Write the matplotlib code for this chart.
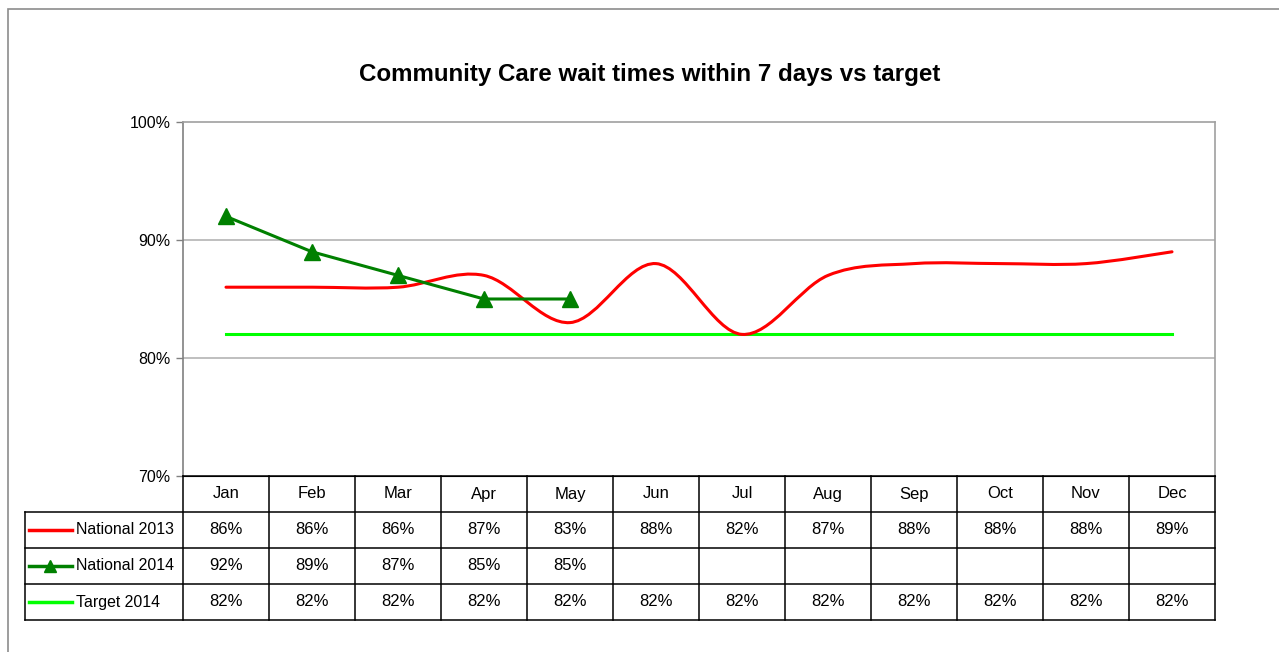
import matplotlib
matplotlib.use("Agg")
import matplotlib.pyplot as plt
import numpy as np
from matplotlib.path import Path
from matplotlib.patches import PathPatch, Rectangle

plt.rcParams['font.family'] = ['Liberation Sans', 'DejaVu Sans']

# data
months = ['Jan', 'Feb', 'Mar', 'Apr', 'May', 'Jun', 'Jul', 'Aug', 'Sep', 'Oct', 'Nov', 'Dec']
national_2013 = [86, 86, 86, 87, 83, 88, 82, 87, 88, 88, 88, 89]
national_2014 = [92, 89, 87, 85, 85]
target_2014 = [82] * 12
series_names = ['National 2013', 'National 2014', 'Target 2014']
yticks = [70, 80, 90, 100]

W, H = 1279, 652
fig = plt.figure(figsize=(W / 100, H / 100), dpi=100)


def fx(px):
    return px / W


def fy(py):
    return 1 - py / H


# outer frame
fig.patches.append(Rectangle((fx(8), -0.02), 1.05, fy(9) + 0.02, transform=fig.transFigure,
                             fill=False, edgecolor='#8c8c8c', lw=1.2))

fig.text(fx(650), fy(75), 'Community Care wait times within 7 days vs target',
         ha='center', va='center', fontsize=17.4, fontweight='bold')

# plot area
x0, x1, ytop, ybot = 183, 1215, 122, 476
ax = fig.add_axes([fx(x0), fy(ybot), fx(x1) - fx(x0), fy(ytop) - fy(ybot)])
ax.set_xlim(-0.5, 11.5)
ax.set_ylim(70, 100)
ax.set_xticks([])
ax.set_yticks(yticks)
ax.set_yticklabels([f'{v}%' for v in yticks], fontsize=11.5)
ax.tick_params(axis='y', direction='out', length=5, width=1, color='#808080', pad=4)
for v in [80, 90]:
    ax.axhline(v, color='#b4b4b4', lw=1.2, zorder=0)
for s in ['top', 'right', 'left']:
    ax.spines[s].set_color('#a0a0a0')
    ax.spines[s].set_linewidth(1.2)
ax.spines['left'].set_color('#808080')
ax.spines['bottom'].set_color('black')

xs = np.arange(len(months))

# smoothed national 2013 (cubic bezier through the points)
pts = np.column_stack([xs, national_2013]).astype(float)
verts = [pts[0]]
codes = [Path.MOVETO]
n = len(pts)
for i in range(n - 1):
    p0 = pts[max(i - 1, 0)]
    p1 = pts[i]
    p2 = pts[i + 1]
    p3 = pts[min(i + 2, n - 1)]
    c1 = p1 + (p2 - p0) / 6
    c2 = p2 - (p3 - p1) / 6
    verts += [c1, c2, p2]
    codes += [Path.CURVE4] * 3
ax.add_patch(PathPatch(Path(verts, codes), fill=False, edgecolor='#ff0000', lw=2.2,
                       capstyle='round', zorder=3))

ax.plot(xs, target_2014, color='#00ff00', lw=2.2, zorder=2)
ax.plot(xs[:len(national_2014)], national_2014, color='#008000', lw=2.2, marker='^',
        markersize=12, zorder=4)

# data table
lx = 25
tab_top, tab_bot = 476, 620
col_w = (x1 - x0) / 12
tx = fig.add_axes([fx(lx), fy(tab_bot), fx(x1) - fx(lx), fy(tab_top) - fy(tab_bot)])
left_edge = -0.5 - (x0 - lx) / col_w
tx.set_xlim(left_edge, 11.5)
tx.set_ylim(0, 4)
tx.axis('off')

lw_t = 1.1
tx.plot([-0.5, 11.5], [4, 4], color='black', lw=lw_t, clip_on=False)
for yv in [0, 1, 2, 3]:
    tx.plot([left_edge, 11.5], [yv, yv], color='black', lw=lw_t, clip_on=False)
for i in range(13):
    xv = i - 0.5
    tx.plot([xv, xv], [0, 4], color='black', lw=lw_t, clip_on=False)
tx.plot([left_edge, left_edge], [0, 3], color='black', lw=lw_t, clip_on=False)

for i, m in enumerate(months):
    tx.text(i, 3.5, m, ha='center', va='center', fontsize=12)

rows = [national_2013, national_2014, target_2014]
for r, vals in enumerate(rows):
    yc = 2.5 - r
    for i, v in enumerate(vals):
        tx.text(i, yc, f'{v}%', ha='center', va='center', fontsize=12)

# legend keys inside the table
key_x0 = left_edge + (29 - lx) / col_w
key_x1 = left_edge + (72 - lx) / col_w
key_colors = ['#ff0000', '#008000', '#00ff00']
for r, (name, c) in enumerate(zip(series_names, key_colors)):
    yc = 2.5 - r
    tx.plot([key_x0, key_x1], [yc, yc], color=c, lw=2.5)
    if r == 1:
        tx.plot([(key_x0 + key_x1) / 2], [yc], color=c, marker='^', markersize=9, lw=0)
    tx.text(left_edge + (76 - lx) / col_w, yc, name, ha='left', va='center', fontsize=11.4)

fig.savefig('out.png', dpi=100)
